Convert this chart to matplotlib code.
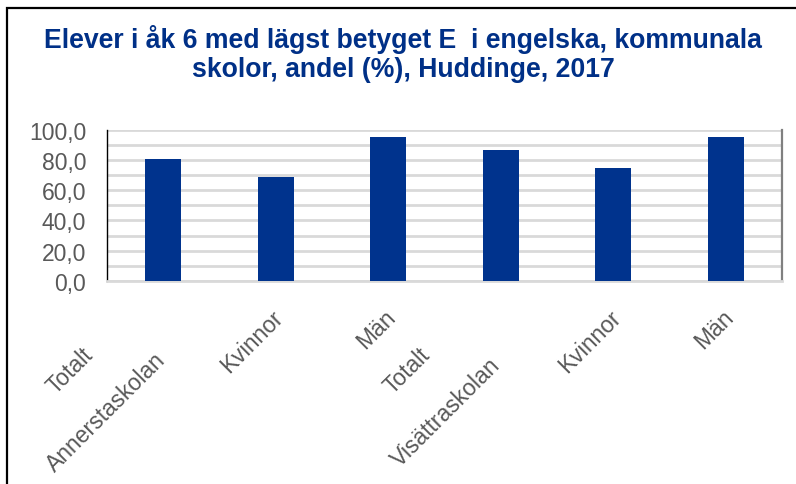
import matplotlib
matplotlib.use("Agg")
import matplotlib.pyplot as plt
from matplotlib.patches import Rectangle
import numpy as np

plt.rcParams['font.family'] = ['Liberation Sans', 'DejaVu Sans']

title = "Elever i åk 6 med lägst betyget E  i engelska, kommunala\nskolor, andel (%), Huddinge, 2017"
schools = ["Annerstaskolan", "Visättraskolan"]
groups = ["Totalt", "Kvinnor", "Män"]
values = [80.5, 68.7, 95.1, 86.5, 74.6, 95.1]
yticks = [0, 20, 40, 60, 80, 100]
ytick_labels = ["0,0", "20,0", "40,0", "60,0", "80,0", "100,0"]

W, H = 796, 485
fig = plt.figure(figsize=(W / 100, H / 100), dpi=100)
fig.patch.set_facecolor('white')

# outer border (cropped on right and bottom)
fig.add_artist(Rectangle((7 / W, -0.1), 1.2, 1.1 - 8.5 / H,
                         transform=fig.transFigure, fill=False,
                         edgecolor='black', linewidth=1.6, zorder=10))

ax = fig.add_axes([107 / W, 1 - 282 / H, (782 - 107) / W, (282 - 130.7) / H])

x = np.arange(len(values))
ax.bar(x, values, width=0.32, color='#00338D', zorder=3)

ax.set_xlim(-0.5, len(values) - 0.5)
ax.set_ylim(0, 100)
ax.set_yticks(yticks)
ax.set_yticklabels(ytick_labels)
ax.set_yticks(np.arange(0, 101, 10), minor=True)
ax.tick_params(axis='y', which='both', length=0, pad=15, labelsize=16.5,
               labelcolor='#595959')
ax.tick_params(axis='x', which='both', length=0, labelbottom=False)
ax.set_xticks([])
ax.grid(axis='y', which='both', color='#D9D9D9', linewidth=2, zorder=0)

ax.spines['left'].set_color('black')
ax.spines['left'].set_linewidth(1.0)
ax.spines['right'].set_color('#808080')
ax.spines['right'].set_linewidth(1.6)
ax.spines['top'].set_visible(False)
ax.spines['bottom'].set_color('#D9D9D9')
ax.spines['bottom'].set_linewidth(2)

# category labels (multi-level)
lab_kw = dict(xycoords=('data', 'axes fraction'), textcoords='offset pixels',
              ha='right', va='top', rotation=45, fontsize=16.5, color='#595959')
for i in range(len(values)):
    g = groups[i % 3]
    if g == "Totalt":
        ax.annotate(g, xy=(i, 0), xytext=(-66, -62), **lab_kw)
    else:
        ax.annotate(g, xy=(i, 0), xytext=(12, -24), **lab_kw)
for j, s in enumerate(schools):
    ax.annotate(s, xy=(j * 3, 0), xytext=(7 - 3 * j, -67 - 5 * j), **lab_kw)

fig.text(403 / W, 1 - 54 / H, title, ha='center', va='center',
         fontsize=19.2, fontweight='bold', color='#003087', linespacing=1.12)

fig.savefig('out.png', dpi=100)
